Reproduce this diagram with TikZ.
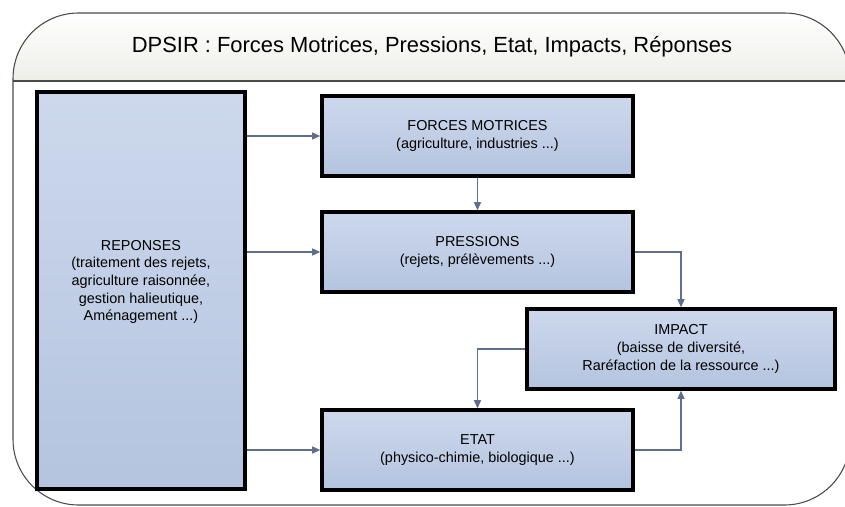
\documentclass[tikz,border=0pt]{standalone}
\usepackage{fontspec}
\setmainfont{Liberation Sans}
\usepackage{xcolor}
\usepackage{tikz}
\usetikzlibrary{arrows.meta, shadows}

\definecolor{boxtop}{HTML}{CDD8EC}
\definecolor{boxbottom}{HTML}{B4C4DF}
\definecolor{arrowgray}{HTML}{5E6E8E}
\definecolor{framegray}{HTML}{4A4A4A}
\definecolor{bandgray}{HTML}{EEEEE8}

\begin{document}
\begin{tikzpicture}[x=0.03cm, y=-0.03cm,
    stage/.style={rectangle, draw=black, line width=2.8pt, top color=boxtop, bottom color=boxbottom, minimum width=9.33cm, minimum height=2.4cm, align=center, font=\fontsize{12.3}{15}\selectfont, drop shadow={shadow xshift=2pt, shadow yshift=-2pt, opacity=0.2, fill=gray}},
    arrow/.style={-{Triangle[length=7pt, width=6pt]}, line width=1.2pt, draw=arrowgray}
]
    \useasboundingbox (0,0) rectangle (845,506);
    \clip (0,0) rectangle (845,506);

    \begin{scope}
        \clip[rounded corners=56] (13,13) rectangle (850,505);
        \fill[top color=white, bottom color=bandgray] (13,13) rectangle (850,81);
    \end{scope}
    \draw[framegray, line width=0.9pt, rounded corners=56] (13,13) rectangle (850,505);
    \draw[framegray, line width=0.9pt] (13,81) -- (850,81);

    \node[font=\fontsize{18.7}{22}\selectfont] (title) at (432,47) {DPSIR : Forces Motrices, Pressions, Etat, Impacts, Réponses};

    \node[stage, minimum width=6.24cm, minimum height=11.91cm, text depth=0.6cm] (reponses) at (141,290.5) {REPONSES\\(traitement des rejets,\\agriculture raisonnée,\\gestion halieutique,\\Aménagement ...)};
    \node[stage] (forces) at (477.5,136) {FORCES MOTRICES\\(agriculture, industries ...)};
    \node[stage] (pressions) at (477.5,252) {PRESSIONS\\(rejets, prélèvements ...)};
    \node[stage, minimum width=9.24cm] (impact) at (681,349) {IMPACT\\(baisse de diversité,\\Raréfaction de la ressource ...)};
    \node[stage] (etat) at (477.5,450) {ETAT\\(physico-chimie, biologique ...)};

    \draw[arrow] (reponses.east |- forces.west) -- (forces.west);
    \draw[arrow] (reponses.east |- pressions.west) -- (pressions.west);
    \draw[arrow] (reponses.east |- etat.west) -- (etat.west);
    \draw[arrow] (forces) -- (pressions);
    \draw[arrow] (pressions.east) -| (impact.north);
    \draw[arrow] (impact.west) -| (etat.north);
    \draw[arrow] (etat.east) -| (impact.south);
\end{tikzpicture}
\end{document}
